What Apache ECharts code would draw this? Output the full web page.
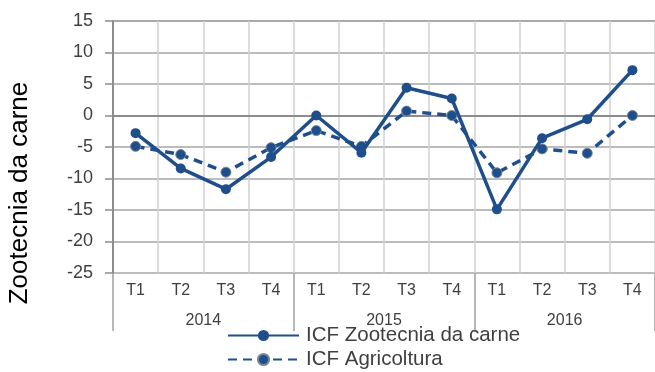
<!DOCTYPE html>
<html>
<head>
<meta charset="utf-8">
<script src="https://cdn.jsdelivr.net/npm/echarts@6/dist/echarts.min.js"></script>
<style>
  html, body { margin: 0; padding: 0; background: #fff; }
  #chart { width: 655px; height: 372px; }
</style>
</head>
<body>
<div id="chart"></div>
<script>
// Quarterly categories and the years they belong to
const quarters = ['T1', 'T2', 'T3', 'T4', 'T1', 'T2', 'T3', 'T4', 'T1', 'T2', 'T3', 'T4'];
const years = ['2014', '2015', '2016'];

// Climate index values per quarter
const icfZootecnia = [-2.8, -8.4, -11.7, -6.6, 0.0, -5.9, 4.4, 2.7, -14.9, -3.6, -0.6, 7.2];
const icfAgricoltura = [-4.9, -6.2, -9.0, -5.1, -2.4, -4.9, 0.7, 0.0, -9.1, -5.3, -6.0, 0.0];

const seriesNames = ['ICF Zootecnia da carne', 'ICF Agricoltura'];
const yTitle = 'Zootecnia da carne';

const FONT = '"Liberation Sans", Arial, sans-serif';
const BLUE = '#1f4e8c';
const TEXT = '#404040';

const chart = echarts.init(document.getElementById('chart'), null, { renderer: 'canvas' });

chart.setOption({
  animation: false,
  backgroundColor: '#ffffff',
  grid: { left: 113, right: -5, top: 21, bottom: 99, containLabel: false },
  graphic: [{
    type: 'text',
    x: 20,
    y: 193,
    rotation: Math.PI / 2,
    style: {
      text: yTitle,
      font: '26px ' + FONT,
      fill: '#000000',
      textAlign: 'center',
      textVerticalAlign: 'middle'
    }
  }],
  legend: {
    orient: 'vertical',
    left: 222,
    top: 320,
    height: 80,
    itemWidth: 71,
    itemHeight: 14,
    itemGap: 3,
    textStyle: { fontFamily: FONT, fontSize: 20.5, color: TEXT, padding: [0, 0, 0, 2] },
    data: seriesNames
  },
  xAxis: [{
    type: 'category',
    data: quarters,
    boundaryGap: true,
    axisLine: { show: true, lineStyle: { color: '#8c8c8c', width: 2 } },
    axisTick: { show: false },
    axisLabel: { fontFamily: FONT, fontSize: 16, color: TEXT, margin: 10 },
    splitLine: { show: true, lineStyle: { color: '#d0d0d0', width: 1.5 } }
  }, {
    type: 'category',
    data: years,
    position: 'bottom',
    boundaryGap: true,
    axisLine: { show: false },
    axisTick: { show: true, length: 58, alignWithLabel: false, lineStyle: { color: '#a0a0a0', width: 1.5 } },
    axisLabel: { fontFamily: FONT, fontSize: 16, color: TEXT, margin: 40 },
    splitLine: { show: false }
  }],
  yAxis: {
    type: 'value',
    min: -25,
    max: 15,
    interval: 5,
    axisLine: { show: true, lineStyle: { color: '#8c8c8c', width: 2 } },
    axisTick: { show: true, length: 8, lineStyle: { color: '#8c8c8c', width: 1.5 } },
    axisLabel: { fontFamily: FONT, fontSize: 18, color: TEXT, margin: 20 },
    splitLine: { show: true, lineStyle: { color: ['#a6a6a6', '#a6a6a6', '#a6a6a6', '#a6a6a6', '#a6a6a6', '#a6a6a6', '#a6a6a6', '#a6a6a6', '#8c8c8c'], width: 1.5 } }
  },
  series: [{
    name: seriesNames[0],
    type: 'line',
    data: icfZootecnia,
    symbol: 'circle',
    symbolSize: 10,
    lineStyle: { color: BLUE, width: 3.5 },
    itemStyle: { color: BLUE },
    z: 3
  }, {
    name: seriesNames[1],
    type: 'line',
    data: icfAgricoltura,
    symbol: 'circle',
    symbolSize: 10,
    lineStyle: { color: BLUE, width: 3.5, type: [9, 6] },
    itemStyle: { color: BLUE, borderColor: '#7a8898', borderWidth: 1 },
    z: 2
  }]
});
</script>
</body>
</html>
